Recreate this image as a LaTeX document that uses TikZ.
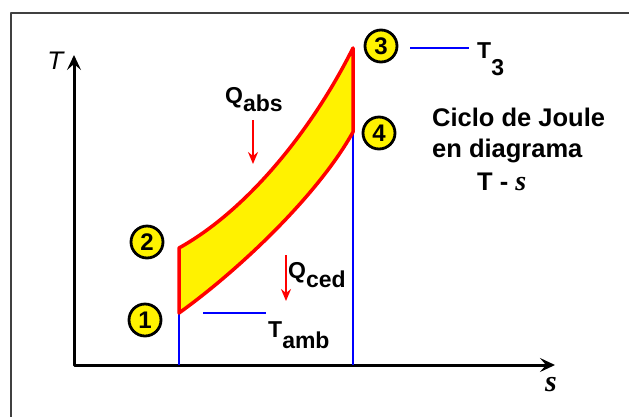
\documentclass[tikz,border=0pt]{standalone}
\usepackage{fontspec}
\setmainfont{DejaVu Sans}
\newfontfamily\negrita{Liberation Sans}
\newfontfamily\cursiva{Liberation Serif}
\usetikzlibrary{arrows.meta}
% subindice bajado casi al tamano normal
\newcommand{\bajo}[2][9pt]{\raisebox{-#1}{#2}}
\newcommand{\entropia}{{\cursiva\bfseries\itshape s}}

\begin{document}
\begin{tikzpicture}[x=1pt, y=-1pt, line join=round,
  ejes/.style={line width=3pt, {Stealth[length=15pt,width=14pt,inset=6pt]}-{Stealth[length=15pt,width=14pt,inset=6pt]}},
  azul/.style={draw=blue, line width=1.5pt},
  ciclo/.style={draw=red, fill=yellow, line width=3.5pt},
  flecha/.style={draw=red, line width=2pt, -{Stealth[length=12pt,width=10pt,inset=4pt]}},
  punto/.style={circle, draw, line width=2.8pt, fill=yellow, minimum size=32pt, inner sep=0pt,
    font=\negrita\bfseries\fontsize{24}{24}\selectfont},
  etiqueta/.style={anchor=base west, inner sep=0pt, font=\negrita\bfseries\fontsize{23}{23}\selectfont},
  texto/.style={anchor=base west, inner sep=0pt, font=\negrita\bfseries\fontsize{25.5}{25.5}\selectfont}]
  \useasboundingbox (0,0) rectangle (629,416);
  \clip (0,0) rectangle (629,416);
  % el marco
  \draw[line width=2pt, black!75] (11,13) rectangle (660,440);
  % los puntos del ciclo
  \coordinate (p1) at (179,313);
  \coordinate (p2) at (179,248);
  \coordinate (p3) at (353,48);
  \coordinate (p4) at (353,132);
  \coordinate (origen) at (74,365);
  \coordinate (tope) at (74,55);
  \coordinate (fin) at (555,365);
  % los ejes
  \draw[ejes] (tope) -- (origen) -- (fin);
  \node[inner sep=0pt, font=\fontsize{24}{24}\selectfont\itshape] (ejeT) at (56,61) {T};
  \node[inner sep=0pt, font=\fontsize{30}{30}\selectfont] (ejeS) at (551,385) {\entropia};
  % las verticales azules
  \coordinate (b1) at (p1 |- origen);
  \coordinate (b4) at (p4 |- origen);
  \draw[azul] (p1) -- (b1);
  \draw[azul] (p4) -- (b4);
  % el ciclo relleno
  \filldraw[ciclo] (p1) -- (p2) .. controls (249,209) and (313,128) .. (p3)
    -- (p4) .. controls (318,195) and (239,270) .. (p1) -- cycle;
  % los circulos con numero
  \node[punto] (n1) at (145,320) {1};
  \node[punto] (n2) at (147,242) {2};
  \node[punto] (n3) at (381,46) {3};
  \node[punto] (n4) at (379,133) {4};
  % las temperaturas
  \coordinate (a1) at (203,313);
  \coordinate (a2) at (266,313);
  \draw[azul] (a1) -- (a2);
  \coordinate (c1) at (410,48);
  \coordinate (c2) at (469,48);
  \draw[azul] (c1) -- (c2);
  \node[etiqueta] (Tamb) at (268,337) {T\bajo[11pt]{amb}};
  \node[etiqueta] (T3) at (477,58) {T\bajo[17pt]{3}};
  % los calores
  \coordinate (qa1) at (253,120);
  \coordinate (qa2) at (253,164);
  \draw[flecha] (qa1) -- (qa2);
  \node[etiqueta] (Qabs) at (225,103) {Q\bajo[8pt]{abs}};
  \coordinate (qc1) at (286,255);
  \coordinate (qc2) at (286,301);
  \draw[flecha] (qc1) -- (qc2);
  \node[etiqueta] (Qced) at (288,278) {Q\bajo[9pt]{ced}};
  % el titulo
  \node[texto] (tit1) at (432,126) {Ciclo de Joule};
  \node[texto] (tit2) at (432,157) {en diagrama};
  \node[texto] (tit3) at (477,190) {T - {\fontsize{28}{28}\selectfont\entropia}};
\end{tikzpicture}
\end{document}
